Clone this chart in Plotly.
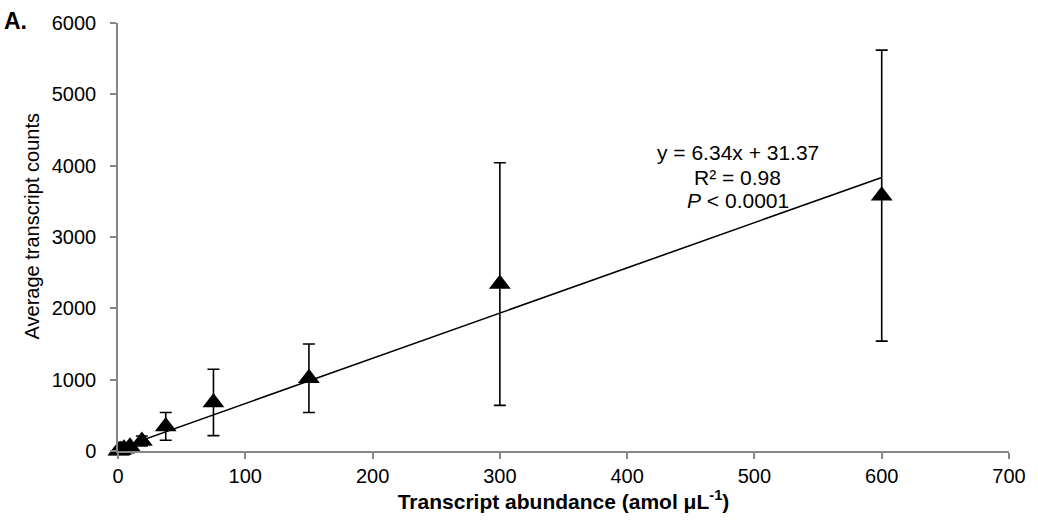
import plotly.graph_objects as go

# Data
abundance = [0.29, 1.17, 2.34, 4.69, 9.38, 18.75, 37.5, 75, 150, 300, 600]
counts = [2, 8, 15, 30, 60, 140, 345, 680, 1020, 2340, 3580]
errors = [3, 6, 10, 15, 25, 70, 195, 465, 480, 1700, 2040]

slope = 6.34
intercept = 31.37
fit_x = [0, 600]
fit_y = [slope * v + intercept for v in fit_x]

x_ticks = [0, 100, 200, 300, 400, 500, 600, 700]
y_ticks = [0, 1000, 2000, 3000, 4000, 5000, 6000]

eq_lines = ["y = 6.34x + 31.37", "R² = 0.98", "<i>P</i> < 0.0001"]
eq_y = [4178, 3841, 3505]

FONT = "Liberation Sans, Arial, sans-serif"

fig = go.Figure()
fig.add_trace(go.Scatter(
    x=fit_x, y=fit_y, mode="lines",
    line=dict(color="black", width=1.6),
    hoverinfo="skip", showlegend=False, cliponaxis=False,
))
fig.add_trace(go.Scatter(
    x=abundance, y=counts, mode="markers",
    marker=dict(symbol="triangle-up", size=19, color="black"),
    error_y=dict(type="data", array=errors, visible=True,
                 color="black", thickness=1.6, width=6),
    showlegend=False, cliponaxis=False,
))

for txt, yy in zip(eq_lines, eq_y):
    fig.add_annotation(
        x=487, xref="x", y=yy, yref="y",
        text=txt, showarrow=False, align="center",
        font=dict(family=FONT, size=21, color="black"),
        xanchor="center", yanchor="middle",
    )

fig.add_annotation(
    x=-0.1305, xref="paper", y=1.0047, yref="paper",
    text="<b>A.</b>", showarrow=False,
    font=dict(family=FONT, size=23, color="black"),
    xanchor="left", yanchor="middle",
)
fig.add_annotation(
    x=-0.096, xref="paper", y=0.5257, yref="paper",
    text="Average transcript counts", textangle=-90, showarrow=False,
    font=dict(family=FONT, size=20, color="black"),
    xanchor="center", yanchor="middle",
)

fig.update_layout(
    width=1038, height=522,
    margin=dict(l=118, r=24, t=23, b=71),
    paper_bgcolor="white", plot_bgcolor="white",
    font=dict(family=FONT, size=20, color="black"),
    xaxis=dict(
        range=[0, 700], tickvals=x_ticks, ticks="outside", ticklen=6,
        tickcolor="#868686", tickwidth=1.5,
        showline=True, linecolor="#868686", linewidth=1.5,
        showgrid=False, zeroline=False,
        title=dict(text="<b>Transcript abundance (amol μL<sup>-1</sup>)</b>",
                   font=dict(family=FONT, size=21), standoff=4),
        tickfont=dict(family=FONT, size=20),
    ),
    yaxis=dict(
        range=[0, 6000], tickvals=y_ticks,
        ticks="outside", ticklen=6,
        tickcolor="#868686", tickwidth=1.5,
        showline=True, linecolor="#868686", linewidth=1.5,
        showgrid=False, zeroline=False,
        ticklabelstandoff=10,
        tickfont=dict(family=FONT, size=20),
    ),
)

fig.write_html("out.html")
